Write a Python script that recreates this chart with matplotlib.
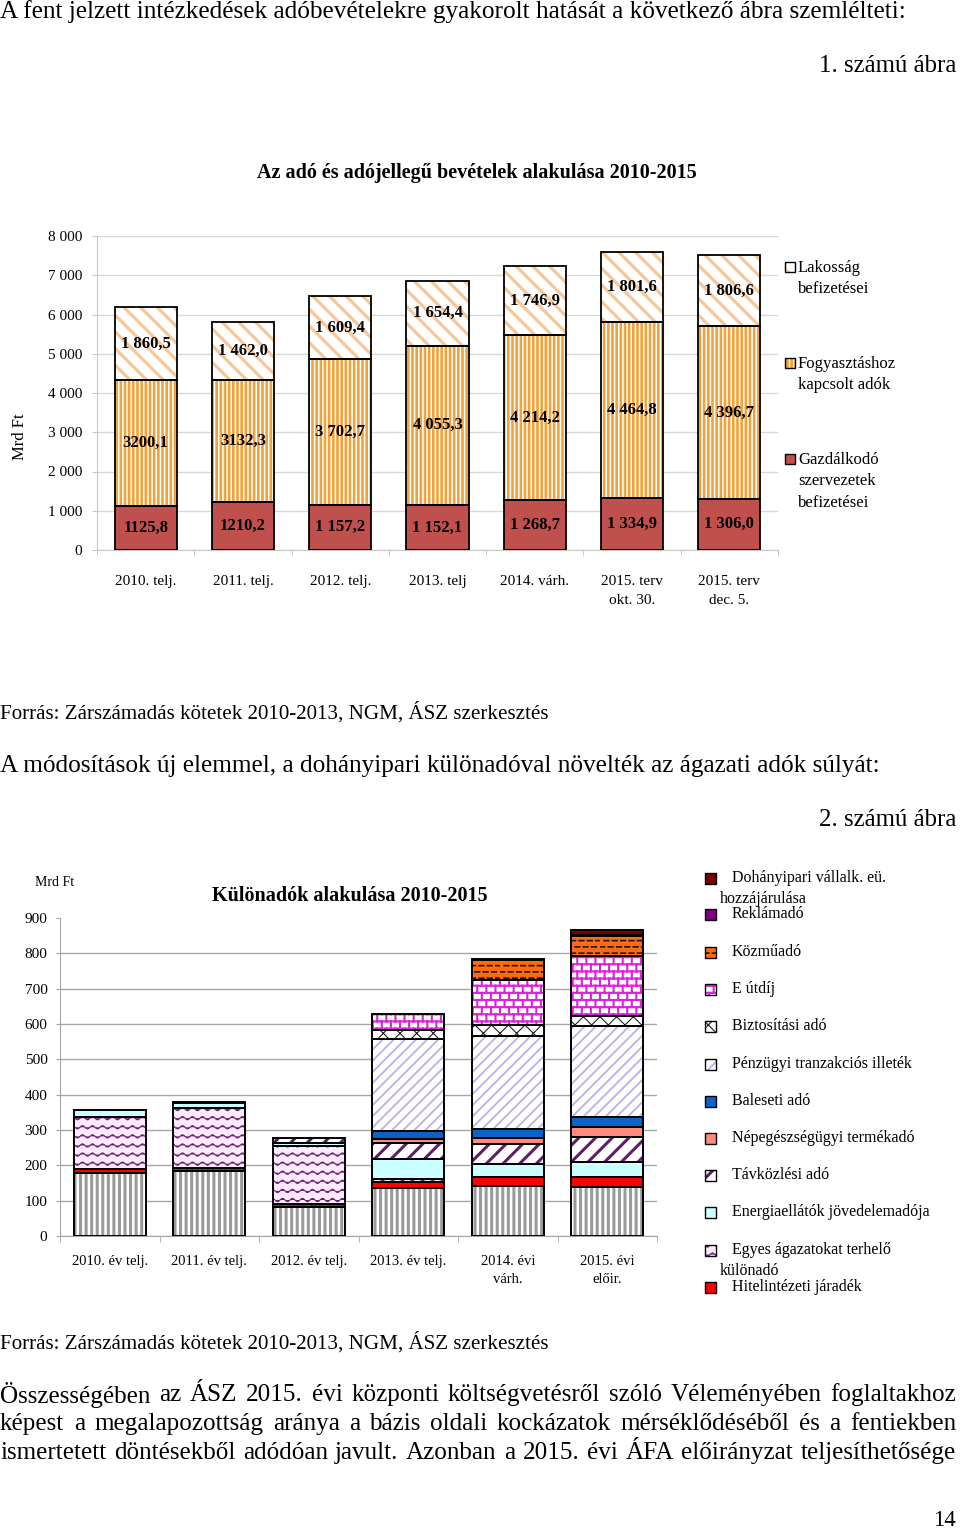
import warnings
import numpy as np
import matplotlib
matplotlib.use('Agg')
import matplotlib.pyplot as plt
import matplotlib.hatch as mhatch
from matplotlib.patches import Rectangle
from matplotlib.path import Path

warnings.filterwarnings('ignore')
plt.rcParams['font.family'] = ['Liberation Serif', 'DejaVu Serif']

# ── 1. ábra adatai (Mrd Ft) ──
evek1 = ['2010. telj.', '2011. telj.', '2012. telj.', '2013. telj', '2014. várh.',
         '2015. terv\nokt. 30.', '2015. terv\ndec. 5.']
gazdalkodo = [1125.8, 1210.2, 1157.2, 1152.1, 1268.7, 1334.9, 1306.0]
fogyasztas = [3200.1, 3132.3, 3702.7, 4055.3, 4214.2, 4464.8, 4396.7]
lakossag = [1860.5, 1462.0, 1609.4, 1654.4, 1746.9, 1801.6, 1806.6]
gazd_cimke = ['1125,8', '1210,2', '1 157,2', '1 152,1', '1 268,7', '1 334,9', '1 306,0']
fogy_cimke = ['3200,1', '3132,3', '3 702,7', '4 055,3', '4 214,2', '4 464,8', '4 396,7']
lak_cimke = ['1 860,5', '1 462,0', '1 609,4', '1 654,4', '1 746,9', '1 801,6', '1 806,6']

# ── 2. ábra adatai (Mrd Ft, alulról felfelé) ──
evek2 = ['2010. év telj.', '2011. év telj.', '2012. év telj.', '2013. év telj.',
         '2014. évi\nvárh.', '2015. évi\nelőir.']
penzugyi_kulonado = [178, 185, 83, 135, 142, 140]
hitelintezeti = [12, 7, 8, 19, 24, 26]
egyes_agazatok = [148, 171, 164, 8, 0, 0]
energiaellatok = [19, 14, 7, 56, 37, 44]
tavkozlesi = [0, 2, 15, 44, 58, 71]
nepegeszseg = [0, 0, 0, 13, 16, 27]
baleseti = [0, 0, 0, 23, 25, 28]
tranzakcios = [0, 0, 0, 259, 265, 259]
biztositasi = [0, 0, 0, 27, 31, 29]
e_utdij = [0, 0, 0, 44, 127, 169]
kozmuado = [0, 0, 0, 0, 55, 55]
reklamado = [0, 0, 0, 0, 4, 5]
dohanyipari = [0, 0, 0, 0, 0, 14]

sorozatok2 = [
    (None, penzugyi_kulonado, '#FFFFFF', '|||', '#9A9A9A', 2.2),
    ('Hitelintézeti járadék', hitelintezeti, '#FF0000', None, None, 0),
    ('Egyes ágazatokat terhelő\nkülönadó', egyes_agazatok, '#FDEAFD', 'w', '#702070', 0.8),
    ('Energiaellátók jövedelemadója', energiaellatok, '#CCFFFF', None, None, 0),
    ('Távközlési adó', tavkozlesi, '#FFFFFF', '//', '#5E1F66', 2.2),
    ('Népegészségügyi termékadó', nepegeszseg, '#FF8A80', None, None, 0),
    ('Baleseti adó', baleseti, '#0A64C8', None, None, 0),
    ('Pénzügyi tranzakciós illeték', tranzakcios, '#FFFFFF', '///', '#B8B2E8', 1.3),
    ('Biztosítási adó', biztositasi, '#FFFFFF', 'xx', '#202020', 0.8),
    ('E útdíj', e_utdij, '#FFFFFF', 'b', '#DD22DD', 1.5),
    ('Közműadó', kozmuado, '#FF6A10', 'd', '#1A1A1A', 1.2),
    ('Reklámadó', reklamado, '#800080', None, None, 0),
    ('Dohányipari vállalk. eü.\nhozzájárulása', dohanyipari, '#7A0000', None, None, 0),
]


# ── saját mintázatok: hullám (w), tégla (b), szaggatott (d) ──
class SajatMinta(mhatch.HatchPatternBase):
    def __init__(self, hatch, density):
        segs = []
        n = hatch.count('w')
        if n:
            rows = 11 * n
            xs = np.linspace(0, 1, 121)
            for i in range(rows + 1):
                segs.append(np.column_stack([xs, i / rows + 0.016 * np.sin(2 * np.pi * 10 * xs)]))
        n = hatch.count('b')
        if n:
            rows, cols = 14 * n, 11 * n
            for i in range(rows + 1):
                segs.append(np.array([[0.0, i / rows], [1.0, i / rows]]))
            for i in range(rows):
                off = 0.5 * (i % 2)
                for j in range(cols + 1):
                    xx = (j + off) / cols
                    if xx <= 1:
                        segs.append(np.array([[xx, i / rows], [xx, (i + 1) / rows]]))
        n = hatch.count('d')
        if n:
            rows, cols = 16 * n, 12 * n
            for i in range(rows):
                y = (i + 0.5) / rows
                off = 0.5 * (i % 2)
                for j in range(cols):
                    x0 = (j + off) / cols
                    segs.append(np.array([[x0, y], [x0 + 0.55 / cols, y]]))
        self.segs = segs
        self.num_vertices = sum(len(s) for s in segs)

    def set_vertices_and_codes(self, vertices, codes):
        c = 0
        for s in self.segs:
            vertices[c:c + len(s)] = s
            codes[c] = Path.MOVETO
            codes[c + 1:c + len(s)] = Path.LINETO
            c += len(s)


mhatch._hatch_types.append(SajatMinta)
mhatch._validate_hatch_pattern = lambda h: None


def minta_vonal(p, w):
    if hasattr(p, 'set_hatch_linewidth'):
        p.set_hatch_linewidth(w)
    else:
        orig = p.draw

        def draw(renderer, orig=orig, w=w):
            with plt.rc_context({'hatch.linewidth': w}):
                orig(renderer)
        p.draw = draw


def reteg(ax, x, h, bottom, width, face, hatch, hcolor, hlw, lw=1.3):
    b = ax.bar(x, h, width, bottom=bottom, color=face, hatch=hatch,
               edgecolor=hcolor if hatch else face, linewidth=0, zorder=2)
    if hatch:
        for p in b:
            minta_vonal(p, hlw)
    ax.bar(x, h, width, bottom=bottom, fill=False, edgecolor='black', linewidth=lw, zorder=3)


def jel(ax, x, y, s, face, hatch, hcolor, hlw):
    r = Rectangle((x, y), s, s, facecolor=face, hatch=hatch,
                  edgecolor=hcolor if hatch else face, linewidth=0)
    ax.add_patch(r)
    if hatch:
        minta_vonal(r, hlw)
    ax.add_patch(Rectangle((x, y), s, s, fill=False, edgecolor='black', linewidth=1))


W, H = 960, 1531
fig = plt.figure(figsize=(W / 100, H / 100), dpi=100)
page = fig.add_axes([0, 0, 1, 1])
page.set_xlim(0, W)
page.set_ylim(H, 0)
page.axis('off')
renderer = fig.canvas.get_renderer()


def szoveg(x0, x1, y, s, ha='left', **kw):
    t = page.text(x0 if ha == 'left' else x1, y, s, ha=ha, va='center', fontsize=10, **kw)
    w = t.get_window_extent(renderer).width
    t.set_fontsize(10 * (x1 - x0) / w)
    return t


def sorkizart(sorok, y0, dy, x0=0, x1=956):
    meretek = []
    for s in sorok:
        t = page.text(0, 0, s, fontsize=10)
        meretek.append(t.get_window_extent(renderer).width)
        t.remove()
    fs = 10 * (x1 - x0) / max(meretek) * 0.985
    for k, s in enumerate(sorok):
        szavak = s.split(' ')
        ts = [page.text(0, y0 + k * dy, w, fontsize=fs, va='center') for w in szavak]
        ws = [t.get_window_extent(renderer).width for t in ts]
        gap = (x1 - x0 - sum(ws)) / (len(ts) - 1)
        x = x0
        for t, w in zip(ts, ws):
            t.set_x(x)
            x += w + gap


# ── oldal szövegei ──
szoveg(0, 908, 12, 'A fent jelzett intézkedések adóbevételekre gyakorolt hatását a következő ábra szemlélteti:')
szoveg(818, 956, 66, '1. számú ábra', ha='right')
szoveg(0, 549, 713, 'Forrás: Zárszámadás kötetek 2010-2013, NGM, ÁSZ szerkesztés')
szoveg(0, 884, 766, 'A módosítások új elemmel, a dohányipari különadóval növelték az ágazati adók súlyát:')
szoveg(818, 956, 820, '2. számú ábra', ha='right')
szoveg(0, 549, 1343, 'Forrás: Zárszámadás kötetek 2010-2013, NGM, ÁSZ szerkesztés')
sorkizart(['Összességében az ÁSZ 2015. évi központi költségvetésről szóló Véleményében foglaltakhoz',
           'képest a megalapozottság aránya a bázis oldali kockázatok mérséklődéséből és a fentiekben',
           'ismertetett döntésekből adódóan javult. Azonban a 2015. évi ÁFA előirányzat teljesíthetősége'],
          1395, 29)
szoveg(933, 956, 1520, '14', ha='right')

# ====================================================================
# 1. ábra
# ====================================================================
ax1 = fig.add_axes([97 / W, 1 - 550 / H, 681 / W, 314 / H])
x1 = np.arange(len(evek1))
bw1 = 0.64
g = np.array(gazdalkodo)
f = np.array(fogyasztas)
l = np.array(lakossag)
reteg(ax1, x1, g, 0, bw1, '#C0504D', None, None, 0)
reteg(ax1, x1, f, g, bw1, '#F0A23B', '||||', '#FFFFFF', 1.1)
reteg(ax1, x1, l, g + f, bw1, '#FFFFFF', '\\\\', '#F7C79A', 2.3)
for i in range(len(x1)):
    for bot, h, s in [(0, g[i], gazd_cimke[i]), (g[i], f[i], fogy_cimke[i]),
                      (g[i] + f[i], l[i], lak_cimke[i])]:
        ax1.text(x1[i], bot + h / 2, s, ha='center', va='center', fontsize=12,
                 fontweight='bold', zorder=4)

ax1.set_xlim(-0.5, len(evek1) - 0.5)
ax1.set_ylim(0, 8000)
yt = np.arange(0, 8001, 1000)
ax1.set_yticks(yt)
ax1.set_yticklabels([f'{v:,}'.replace(',', ' ') for v in yt])
ax1.yaxis.grid(True, color='#D9D9D9', lw=1)
ax1.set_axisbelow(True)
for s in ['top', 'right']:
    ax1.spines[s].set_visible(False)
ax1.spines['left'].set_color('#C8C8C8')
ax1.spines['bottom'].set_color('#C8C8C8')
ax1.tick_params(axis='y', length=3.6, color='#C8C8C8', labelsize=11, pad=7)
ax1.set_xticks(x1)
ax1.set_xticklabels(evek1)
ax1.tick_params(axis='x', which='major', length=0, pad=18, labelsize=11)
ax1.set_xticks(np.arange(-0.5, len(evek1), 1), minor=True)
ax1.tick_params(axis='x', which='minor', length=4, color='#C8C8C8')
for lab in ax1.get_xticklabels():
    lab.set_linespacing(1.6)
ax1.set_ylabel('Mrd Ft', fontsize=12)
ax1.yaxis.set_label_coords(-0.101, 0.36)

page.text(477, 173, 'Az adó és adójellegű bevételek alakulása 2010-2015', ha='center',
          va='center', fontsize=14.5, fontweight='bold')

leg1 = [('Lakosság\nbefizetései', 267, '#FFFFFF', '\\\\', '#F7C79A', 1.5),
        ('Fogyasztáshoz\nkapcsolt adók', 363, '#F0A23B', '||||', '#FFFFFF', 0.9),
        ('Gazdálkodó\nszervezetek\nbefizetései', 459, '#C0504D', None, None, 0)]
for nev, y, face, hatch, hc, hlw in leg1:
    jel(page, 785, y - 5, 10, face, hatch, hc, hlw)
    page.text(798, y - 7, nev, ha='left', va='top', fontsize=12, linespacing=1.45)

# ====================================================================
# 2. ábra
# ====================================================================
ax2 = fig.add_axes([60 / W, 1 - 1236 / H, 597 / W, 318 / H])
x2 = np.arange(len(evek2))
bw2 = 0.72
alap = np.zeros(len(evek2))
for nev, ertek, face, hatch, hc, hlw in sorozatok2:
    v = np.array(ertek, dtype=float)
    m = v > 0
    reteg(ax2, x2[m], v[m], alap[m], bw2, face, hatch, hc, hlw, lw=1.4)
    alap = alap + v

ax2.set_xlim(-0.5, len(evek2) - 0.5)
ax2.set_ylim(0, 900)
ax2.set_yticks(np.arange(0, 901, 100))
ax2.yaxis.grid(True, color='#A6A6A6', lw=1)
ax2.get_ygridlines()[-1].set_visible(False)
ax2.set_axisbelow(True)
for s in ['top', 'right']:
    ax2.spines[s].set_visible(False)
ax2.spines['left'].set_color('#A6A6A6')
ax2.spines['bottom'].set_color('#A6A6A6')
ax2.tick_params(axis='y', length=3, color='#A6A6A6', labelsize=11, pad=6)
ax2.set_xticks(x2)
ax2.set_xticklabels(evek2)
ax2.tick_params(axis='x', which='major', length=0, pad=14, labelsize=10.5)
ax2.set_xticks(np.arange(-0.5, len(evek2), 1), minor=True)
ax2.tick_params(axis='x', which='minor', length=4, color='#A6A6A6')
for lab in ax2.get_xticklabels():
    lab.set_linespacing(1.5)

page.text(55, 882, 'Mrd Ft', ha='center', va='center', fontsize=10)
page.text(350, 896, 'Különadók alakulása 2010-2015', ha='center', va='center',
          fontsize=14.5, fontweight='bold')

leg_y = [1287, 1250, 1212, 1175, 1138, 1101, 1064, 1026, 989, 952, 914, 878]
for (nev, ertek, face, hatch, hc, hlw), y in zip(sorozatok2[1:], leg_y):
    jel(page, 705, y - 5.5, 11, face, hatch, hc, hlw)
    sorok = nev.split('\n')
    page.text(732, y, sorok[0], ha='left', va='center', fontsize=11.5)
    if len(sorok) > 1:
        page.text(720, y + 21, sorok[1], ha='left', va='center', fontsize=11.5)

fig.savefig('out.png', dpi=100)
